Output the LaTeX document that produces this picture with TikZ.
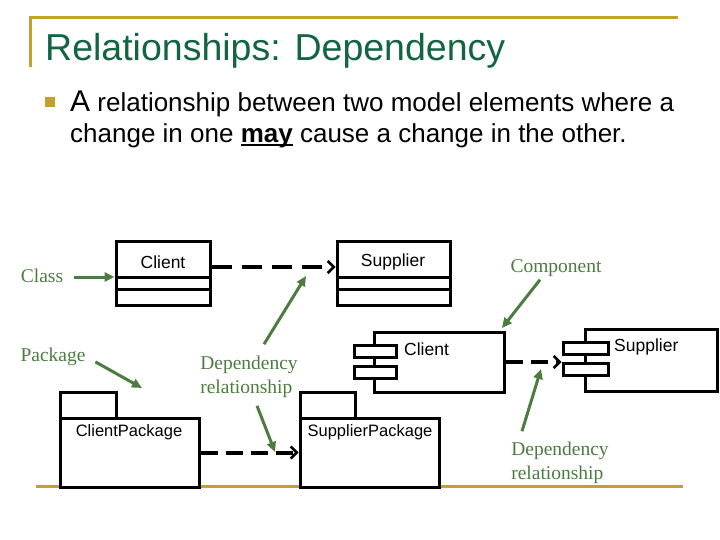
\documentclass[tikz,border=0pt]{standalone}
\usepackage{fontspec}
\setmainfont{Liberation Sans}
\newfontfamily\notefont{Liberation Serif}
\usetikzlibrary{arrows.meta}

\definecolor{titlegreen}{RGB}{18,100,66}
\definecolor{notegreen}{RGB}{76,124,64}
\definecolor{rulegold}{RGB}{196,160,44}
\newcommand{\tightul}[1]{{\sbox0{#1}\rlap{\rule[-3.5pt]{\wd0}{2pt}}\box0}}

\begin{document}
\begin{tikzpicture}[x=1pt, y=-1pt,
        umlbox/.style={draw, line width=3pt, fill=white, inner sep=0pt},
        boxtext/.style={inner sep=0pt, font=\fontsize{17.5}{20}\selectfont},
        pkgtext/.style={inner sep=0pt, font=\fontsize{16.5}{20}\selectfont},
        depend/.style={line width=4pt, dash pattern=on 20pt off 10pt,
            -{Straight Barb[length=6pt,width=12pt,line width=2.5pt]}},
        note/.style={notegreen, inner sep=1pt, align=left,
            font=\notefont\fontsize{19.5}{23.5}\selectfont},
        pointer/.style={notegreen, line width=3pt, -{Triangle[length=10pt,width=9pt]}}]
                \useasboundingbox (0,0) rectangle (720,540);
                % slide frame
                \draw[rulegold, line width=3pt] (30,67) -- (30,18) -- (678,18);
                \draw[rulegold, line width=3pt] (36,486) -- (683,486);
                \node[anchor=base west, inner sep=0pt, titlegreen, font=\fontsize{37.5}{44}\selectfont] (title) at (45,61) {Relationships: Dependency};
                \fill[rulegold] (45,97) rectangle (55,107);
                \node[anchor=north west, inner sep=0pt, align=left, font=\fontsize{26}{31}\selectfont] (bodyTxt) at (70,91)
                    {{\fontsize{30}{31}\selectfont A} relationship between two model elements where a\\change in one \tightul{\textbf{may}} cause a change in the other.};

                % classes
                \node[umlbox, minimum width=94pt, minimum height=64pt] (cliCls) at (163,273) {};
                \node[umlbox, minimum width=113pt, minimum height=64pt] (supCls) at (393.5,273) {};
                \draw[line width=3pt] (cliCls.west |- 0,277) -- (cliCls.east |- 0,277);
                \draw[line width=3pt] (cliCls.west |- 0,289) -- (cliCls.east |- 0,289);
                \draw[line width=3pt] (supCls.west |- 0,277) -- (supCls.east |- 0,277);
                \draw[line width=3pt] (supCls.west |- 0,289) -- (supCls.east |- 0,289);
                \node[boxtext] (cliClsName) at (163,262) {Client};
                \node[boxtext] (supClsName) at (393,262) {Supplier};
                \draw[depend] (cliCls.east |- 0,267) -- (supCls.west |- 0,267);

                % components
                \node[umlbox, minimum width=130pt, minimum height=60pt] (cliCmp) at (439,362) {};
                \node[umlbox, minimum width=42pt, minimum height=12pt] (cliCmpTabA) at (375,351.5) {};
                \node[umlbox, minimum width=42pt, minimum height=12pt] (cliCmpTabB) at (375,372.5) {};
                \node[boxtext, anchor=west] (cliCmpName) at (404,349) {Client};
                \node[umlbox, minimum width=132pt, minimum height=62pt] (supCmp) at (651,360) {};
                \node[umlbox, minimum width=45pt, minimum height=12pt] (supCmpTabA) at (585.5,348) {};
                \node[umlbox, minimum width=45pt, minimum height=12pt] (supCmpTabB) at (585.5,369) {};
                \node[boxtext, anchor=west] (supCmpName) at (614,347) {Supplier};
                \draw[depend, dash pattern=on 17pt off 8pt] (cliCmp.east |- 0,362) -- (supCmpTabA.west |- 0,362);

                % packages
                \node[umlbox, minimum width=56pt, minimum height=26pt] (cliPkgTab) at (88,405) {};
                \node[umlbox, minimum width=139pt, minimum height=69pt] (cliPkg) at (129.5,452.5) {};
                \node[pkgtext] (cliPkgName) at (129,432) {ClientPackage};
                \node[umlbox, minimum width=55pt, minimum height=26pt] (supPkgTab) at (327.5,405) {};
                \node[umlbox, minimum width=139pt, minimum height=69pt] (supPkg) at (369.5,452.5) {};
                \node[pkgtext] (supPkgName) at (370,432) {SupplierPackage};
                \draw[depend, dash pattern=on 17pt off 8pt] (cliPkg) -- (supPkg);

                % notes
                \node[note] (clsLbl) at (42,276) {Class};
                \node[note] (pkgLbl) at (53,357) {Package};
                \node[note] (depLbl) at (249,377) {Dependency\\relationship};
                \node[note] (cmpLbl) at (556,268) {Component};
                \node[note] (depLblR) at (560,463) {Dependency\\relationship};
                \coordinate (pkgTip) at (142,388);
                \coordinate (depTipA) at (306,276);
                \coordinate (depTipB) at (275,452);
                \coordinate (cmpTip) at (502,328);
                \coordinate (depTipR) at (541,369);
                \draw[pointer, shorten <=10pt] (clsLbl.east |- 0,277) -- (cliCls.west |- 0,277);
                \draw[pointer, shorten <=10pt] (pkgLbl.east) -- (pkgTip);
                \draw[pointer] ([xshift=15pt,yshift=11pt]depLbl.north) -- (depTipA);
                \draw[pointer] ([xshift=8pt,yshift=-7pt]depLbl.south) -- (depTipB);
                \draw[pointer] ([xshift=-16pt,yshift=-2pt]cmpLbl.south) -- (cmpTip);
                \draw[pointer] ([xshift=-38pt,yshift=10pt]depLblR.north) -- (depTipR);
            \end{tikzpicture}
\end{document}
